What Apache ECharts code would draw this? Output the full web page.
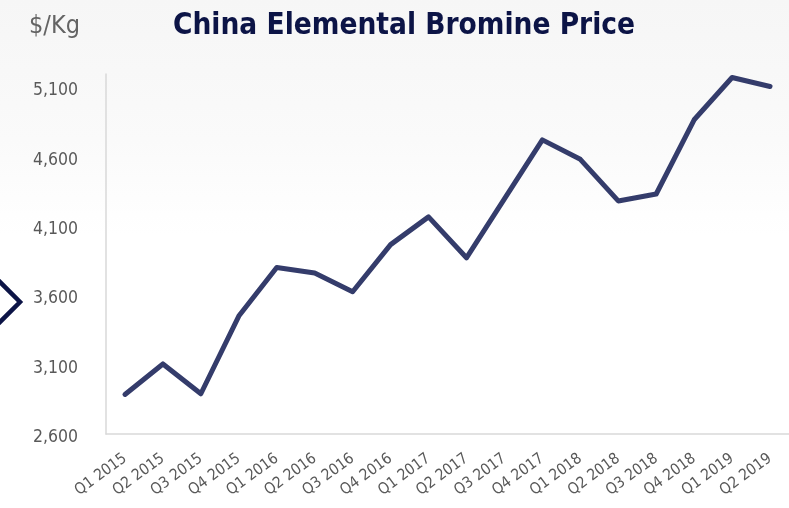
<!DOCTYPE html>
<html>
<head>
<meta charset="utf-8">
<script src="https://cdn.jsdelivr.net/npm/echarts@6/dist/echarts.min.js"></script>
<style>
  html, body { margin: 0; padding: 0; }
  body { background: linear-gradient(to bottom, #f6f6f6 0px, #fafafa 140px, #ffffff 235px); }
  #chart { width: 789px; height: 508px; }
</style>
</head>
<body>
<div id="chart"></div>
<script>
// Quarterly price of elemental bromine in China, $/Kg
const quarters = ['Q1 2015', 'Q2 2015', 'Q3 2015', 'Q4 2015', 'Q1 2016', 'Q2 2016', 'Q3 2016', 'Q4 2016',
  'Q1 2017', 'Q2 2017', 'Q3 2017', 'Q4 2017', 'Q1 2018', 'Q2 2018', 'Q3 2018', 'Q4 2018', 'Q1 2019', 'Q2 2019'];
const prices = [2885, 3105, 2890, 3450, 3800, 3760, 3625, 3965,
  4165, 3870, 4295, 4720, 4580, 4280, 4330, 4865, 5170, 5105];
const yMin = 2600;
const yStep = 500;

const FONT = '"DejaVu Sans Condensed", "Liberation Sans Narrow", "DejaVu Sans", sans-serif';
const chart = echarts.init(document.getElementById('chart'), null, { renderer: 'canvas' });

chart.setOption({
  backgroundColor: 'transparent',
  animation: false,
  title: [
    {
      text: 'China Elemental Bromine Price',
      left: 168, top: 1,
      textStyle: { fontFamily: FONT, fontSize: 29.5, fontWeight: 'bold', color: '#0c1446', lineHeight: 40 }
    },
    {
      text: '$/Kg',
      left: 24, top: 4,
      textStyle: { fontFamily: FONT, fontSize: 25, fontWeight: 'normal', color: '#646464', lineHeight: 34 }
    }
  ],
  grid: { left: 106, right: 0, top: 74, bottom: 74 },
  xAxis: {
    type: 'category',
    data: quarters,
    boundaryGap: true,
    axisLine: { show: true, lineStyle: { color: '#d9d9d9', width: 1.5 } },
    axisTick: { show: false },
    axisLabel: {
      interval: 0, rotate: 36, margin: 23,
      fontFamily: FONT, fontSize: 15.5, color: '#595959'
    },
    splitLine: { show: false }
  },
  yAxis: {
    type: 'value',
    min: yMin, max: 5195, interval: yStep,
    axisLine: { show: true, lineStyle: { color: '#d9d9d9', width: 1.5 } },
    axisTick: { show: false },
    splitLine: { show: false },
    axisLabel: {
      showMaxLabel: false, margin: 28,
      fontFamily: FONT, fontSize: 17.5, color: '#595959',
      formatter: v => '{n|' + v.toLocaleString('en-US') + '}',
      rich: {
        n: { fontFamily: FONT, fontSize: 17.5, color: '#595959', padding: [7, 0, 0, 0] }
      }
    }
  },
  series: [{
    type: 'line',
    data: prices,
    symbol: 'none',
    lineStyle: { color: '#343c6b', width: 5, cap: 'round', join: 'round' }
  }],
  graphic: [{
    type: 'polyline',
    shape: { points: [[-4, 278], [20, 302], [-4, 326]] },
    style: { stroke: '#0c1446', lineWidth: 4.5, fill: null },
    silent: true
  }]
});
</script>
</body>
</html>
